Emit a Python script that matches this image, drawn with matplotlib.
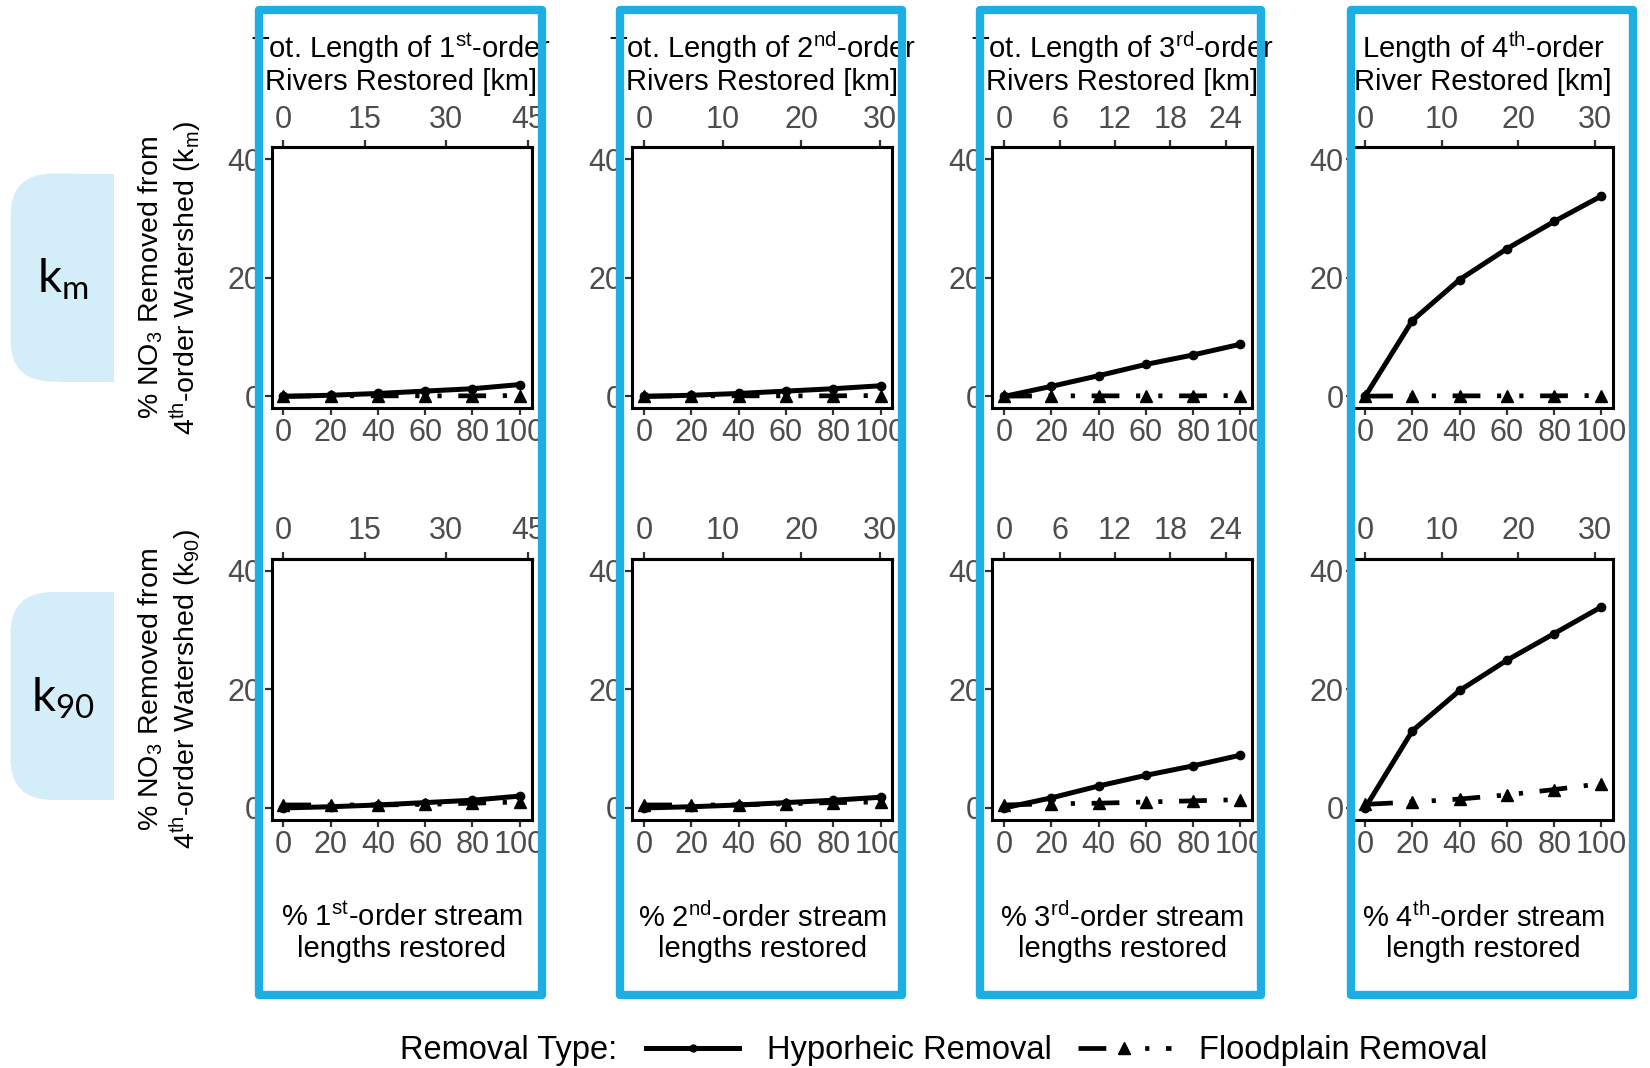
import matplotlib.pyplot as plt
from matplotlib.lines import Line2D
from matplotlib.patches import Rectangle, FancyBboxPatch

plt.rcParams['font.family'] = ['Liberation Sans', 'DejaVu Sans']
plt.rcParams['mathtext.default'] = 'regular'
plt.rcParams['lines.scale_dashes'] = False

# data
pct_restored = [0, 20, 40, 60, 80, 100]
total_km = [43.5, 30.1, 25.6, 30.9]
km_ticks = [[0, 15, 30, 45], [0, 10, 20, 30], [0, 6, 12, 18, 24], [0, 10, 20, 30]]

hypo_km = [[0, 0.2, 0.5, 0.9, 1.3, 2.0],
           [0, 0.2, 0.5, 0.9, 1.3, 1.8],
           [0, 1.7, 3.5, 5.4, 7.0, 8.8],
           [0, 12.8, 19.7, 24.9, 29.5, 33.8]]
flood_km = [[0.05, 0.1, 0.1, 0.1, 0.1, 0.15],
            [0.05, 0.1, 0.1, 0.1, 0.1, 0.15],
            [0.05, 0.1, 0.1, 0.1, 0.1, 0.15],
            [0.05, 0.1, 0.1, 0.1, 0.1, 0.15]]
hypo_k90 = [[0, 0.2, 0.5, 0.9, 1.3, 2.0],
            [0, 0.2, 0.5, 0.9, 1.3, 1.8],
            [0, 1.7, 3.7, 5.5, 7.1, 8.9],
            [0, 13.0, 19.8, 24.9, 29.4, 33.9]]
flood_k90 = [[0.5, 0.5, 0.5, 0.6, 0.8, 1.0],
             [0.5, 0.5, 0.5, 0.7, 0.9, 1.0],
             [0.5, 0.7, 0.8, 1.0, 1.2, 1.4],
             [0.6, 1.0, 1.5, 2.2, 3.1, 4.1]]

top_titles = ['Tot. Length of 1$^{st}$-order\nRivers Restored [km]',
              'Tot. Length of 2$^{nd}$-order\nRivers Restored [km]',
              'Tot. Length of 3$^{rd}$-order\nRivers Restored [km]',
              'Length of 4$^{th}$-order\nRiver Restored [km]']
bottom_labels = ['% 1$^{st}$-order stream\nlengths restored',
                 '% 2$^{nd}$-order stream\nlengths restored',
                 '% 3$^{rd}$-order stream\nlengths restored',
                 '% 4$^{th}$-order stream\nlength restored']
ylabels = ['% NO$_3$ Removed from\n4$^{th}$-order Watershed (k$_m$)',
           '% NO$_3$ Removed from\n4$^{th}$-order Watershed (k$_{90}$)']
strip_labels = ['k$_m$', 'k$_{90}$']

W, H = 1650, 1068
fig = plt.figure(figsize=(W / 100, H / 100), dpi=100)

col_left = [271.5, 632.4, 992.3, 1353.3]
row_top = [147.3, 558.8]
ax_w, ax_h = 260, 261
FLOOD_DASH = (20, 12, 3, 13, 3, 12)
BLUE = '#1DAEE4'
TICK_GREY = '#4D4D4D'


def fx(x):
    return x / W


def fy(y):
    return 1 - y / H


rows = [(hypo_km, flood_km), (hypo_k90, flood_k90)]
for r, (hypo, flood) in enumerate(rows):
    for c in range(4):
        ax = fig.add_axes([fx(col_left[c]), fy(row_top[r] + ax_h), ax_w / W, ax_h / H])
        ax.plot(pct_restored, flood[c], color='black', lw=3.4, dashes=FLOOD_DASH,
                marker='^', ms=9, dash_capstyle='butt')
        ax.plot(pct_restored, hypo[c], color='black', lw=3.6, marker='o', ms=6,
                solid_capstyle='round')
        ax.set_xlim(-5, 105)
        ax.set_ylim(-2, 42)
        ax.set_xticks(pct_restored)
        ax.set_yticks([0, 20, 40])
        for s in ax.spines.values():
            s.set_linewidth(2.2)
        ax.tick_params(direction='out', length=5, width=1.6, color='#333333',
                       labelsize=22, labelcolor=TICK_GREY, pad=2)
        tot = total_km[c]
        sec = ax.secondary_xaxis('top', functions=(lambda p, t=tot: p * t / 100,
                                                   lambda k, t=tot: k * 100 / t))
        sec.set_xticks(km_ticks[c])
        sec.spines['top'].set_linewidth(2.2)
        sec.tick_params(direction='out', length=5, width=1.6, color='#333333',
                        labelsize=22, labelcolor=TICK_GREY, pad=4)

for c in range(4):
    cx = col_left[c] + ax_w / 2
    fig.text(fx(cx), fy(63), top_titles[c], ha='center', va='center',
             fontsize=21, linespacing=1.1)
    fig.text(fx(cx), fy(933), bottom_labels[c], ha='center', va='center',
             fontsize=21, linespacing=1.1)

for r in range(2):
    fig.text(fx(170), fy(row_top[r] + ax_h / 2), ylabels[r], rotation=90,
             ha='center', va='center', fontsize=20.5, linespacing=1.1)

# background overlay for the strips, foreground overlay for the blue boxes
bg = fig.add_axes([0, 0, 1, 1], zorder=-1)
bg.set_xlim(0, W)
bg.set_ylim(H, 0)
bg.axis('off')
strip_tops = [173.6, 592.0]
for r in range(2):
    y0 = strip_tops[r]
    bg.add_patch(FancyBboxPatch((10.5, y0), 103, 208,
                                boxstyle='round,pad=0,rounding_size=42',
                                fc='#D4EEF9', ec='none'))
    bg.add_patch(Rectangle((60, y0), 53.6, 208, fc='#D4EEF9', ec='none'))
    bg.text(63, y0 + 106, strip_labels[r], ha='center', va='center',
            fontsize=34, family='Lato')

fg = fig.add_axes([0, 0, 1, 1], zorder=10)
fg.set_xlim(0, W)
fg.set_ylim(H, 0)
fg.axis('off')
fg.patch.set_alpha(0)
box_x = [(259, 542), (620, 902), (980, 1261), (1351, 1633)]
for x0, x1 in box_x:
    fg.add_patch(Rectangle((x0, 9.5), x1 - x0, 985, fill=False, ec=BLUE,
                           lw=6, joinstyle='round'))

# legend
fig.text(fx(400), fy(1051), 'Removal Type:', ha='left', va='center', fontsize=23.5)
handles = [Line2D([], [], color='black', lw=3.6, marker='o', ms=5),
           Line2D([], [], color='black', lw=3.4, dashes=FLOOD_DASH, marker='^', ms=8)]
fig.legend(handles, ['Hyporheic Removal', 'Floodplain Removal'], ncol=2,
           loc='center left', bbox_to_anchor=(fx(630), fy(1051)), frameon=False,
           fontsize=23.5, handlelength=2.85, handletextpad=0.85, columnspacing=0.8,
           numpoints=1, borderpad=0)

fig.savefig('out.png', dpi=100)
